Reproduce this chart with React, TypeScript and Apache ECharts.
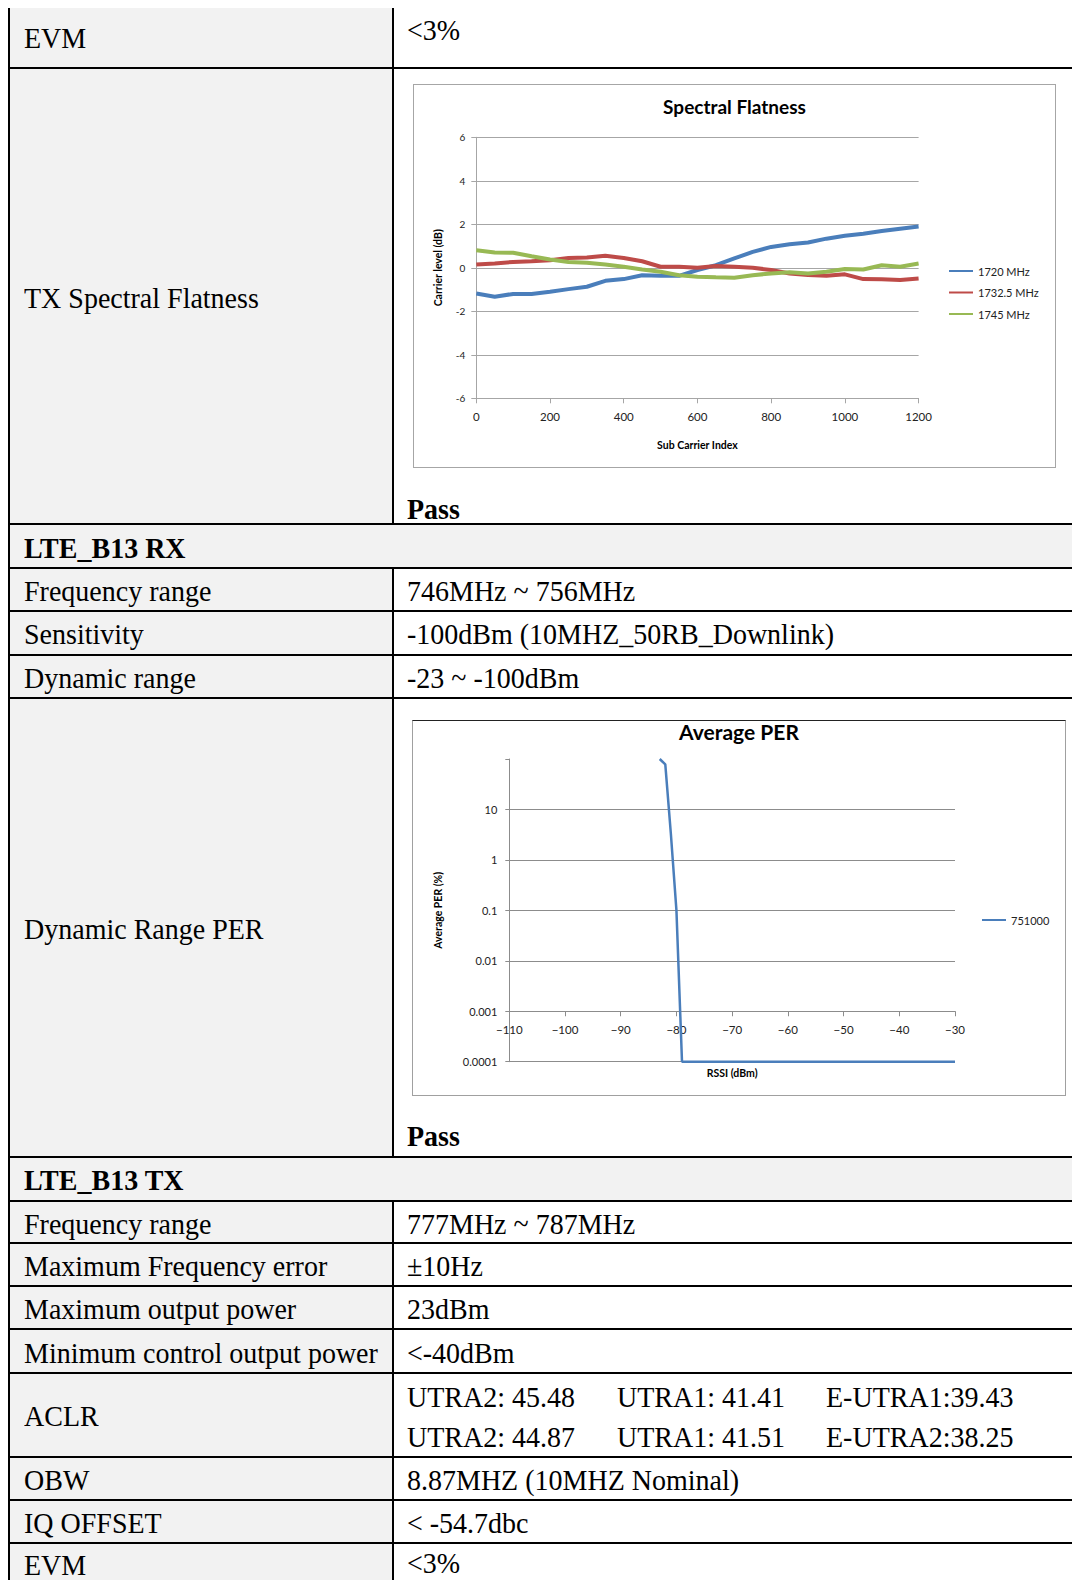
import React, { useEffect, useRef } from 'react';
import * as echarts from 'echarts';

// ---------- Spectral flatness data ----------
const subCarrierIndex = [0, 50, 100, 150, 200, 250, 300, 350, 400, 450, 500, 550, 600, 650, 700, 750, 800, 850, 900, 950, 1000, 1050, 1100, 1150, 1200];
const level1720 = [-1.18, -1.33, -1.2, -1.2, -1.1, -0.98, -0.87, -0.6, -0.52, -0.34, -0.37, -0.37, -0.1, 0.12, 0.43, 0.73, 0.96, 1.08, 1.16, 1.34, 1.47, 1.57, 1.69, 1.8, 1.9];
const level17325 = [0.15, 0.2, 0.27, 0.3, 0.35, 0.45, 0.47, 0.55, 0.45, 0.3, 0.05, 0.05, 0.0, 0.08, 0.05, 0.0, -0.1, -0.26, -0.33, -0.37, -0.3, -0.52, -0.53, -0.56, -0.49];
const level1745 = [0.81, 0.7, 0.69, 0.53, 0.38, 0.27, 0.23, 0.15, 0.05, -0.08, -0.18, -0.34, -0.41, -0.44, -0.46, -0.34, -0.26, -0.21, -0.26, -0.18, -0.06, -0.08, 0.12, 0.05, 0.2];
const flatnessNames = ['1720 MHz', '1732.5 MHz', '1745 MHz'];
const flatnessColors = ['#4a7ebb', '#be4b48', '#98b954'];

// ---------- Average PER data ----------
const rssi = [-83, -82, -81, -80, -79, -75, -70, -65, -60, -55, -50, -45, -40, -35, -30];
const per751000 = [100, 78, 3.3, 0.1, 0.0001, 0.0001, 0.0001, 0.0001, 0.0001, 0.0001, 0.0001, 0.0001, 0.0001, 0.0001, 0.0001];
const perTickLabels = ['0.0001', '0.001', '0.01', '0.1', '1', '10'];

// ---------- Table content ----------
const rowEdges = [8, 68, 524, 568, 611, 654.5, 698, 1157, 1200.7, 1243.3, 1286, 1329.3, 1372.7, 1456.7, 1500, 1543.3, 1620];
const rowLabels = ['EVM', 'TX Spectral Flatness', 'LTE_B13 RX', 'Frequency range', 'Sensitivity', 'Dynamic range', 'Dynamic Range PER', 'LTE_B13 TX', 'Frequency range', 'Maximum Frequency error', 'Maximum output power', 'Minimum control output power', 'ACLR', 'OBW', 'IQ OFFSET', 'EVM'];
const rowValues = ['<3%', '', '', '746MHz ~ 756MHz', '-100dBm (10MHZ_50RB_Downlink)', '-23 ~ -100dBm', '', '', '777MHz ~ 787MHz', '±10Hz', '23dBm', '<-40dBm', '', '8.87MHZ (10MHZ Nominal)', '< -54.7dbc', '<3%'];
const headerRows = [2, 7];
const aclrLines = [
  ['UTRA2: 45.48', 'UTRA1: 41.41', 'E-UTRA1:39.43'],
  ['UTRA2: 44.87', 'UTRA1: 41.51', 'E-UTRA2:38.25'],
];

const SERIF = "'Liberation Serif', 'Times New Roman', serif";
const SANS = "Lato, 'Noto Sans', sans-serif";
const LEFT_X = 24;
const RIGHT_X = 407;
const COL_X = 392;
const ACLR_X = [407, 617, 826];

function EChart({ option, style }: { option: any; style: React.CSSProperties }) {
  const ref = useRef<HTMLDivElement>(null);
  useEffect(() => {
    const chart = echarts.init(ref.current as HTMLDivElement, undefined, { renderer: 'svg' });
    chart.setOption(option);
    return () => chart.dispose();
  }, []);
  return <div ref={ref} style={style} />;
}

function T({ x, cy, bold, children }: { x: number; cy: number; bold?: boolean; children: React.ReactNode }) {
  return (
    <div
      style={{
        position: 'absolute',
        left: x,
        top: cy - 16,
        height: 32,
        lineHeight: '32px',
        fontSize: 28,
        fontFamily: SERIF,
        fontWeight: bold ? 'bold' : 'normal',
        whiteSpace: 'nowrap',
        color: '#000',
        transform: 'scaleY(1.08)',
        transformOrigin: 'left center',
      }}
    >
      {children}
    </div>
  );
}

const flatW = 643;
const flatH = 384;
const flatOption = {
  animation: false,
  backgroundColor: '#ffffff',
  title: {
    text: 'Spectral Flatness',
    left: 'center',
    top: 13,
    padding: 0,
    textStyle: { fontFamily: SANS, fontWeight: 'bold', fontSize: 19, color: '#000' },
  },
  grid: { left: 63.3, top: 53.3, width: 442.3, height: 261 },
  legend: {
    orient: 'vertical',
    left: 536,
    top: 181.5,
    padding: 0,
    itemWidth: 24,
    itemHeight: 2,
    itemGap: 10.5,
    icon: 'rect',
    data: flatnessNames,
    textStyle: { fontFamily: SANS, fontSize: 11, color: '#222' },
  },
  xAxis: {
    type: 'value',
    min: 0,
    max: 1200,
    interval: 200,
    name: 'Sub Carrier Index',
    nameLocation: 'middle',
    nameGap: 41,
    nameTextStyle: { fontFamily: SANS, fontWeight: 'bold', fontSize: 10.5, color: '#000' },
    axisLine: { show: true, onZero: false, lineStyle: { color: '#a6a6a6', width: 1 } },
    axisTick: { show: true, length: 5, lineStyle: { color: '#a6a6a6' } },
    axisLabel: { margin: 12, fontFamily: SANS, fontSize: 11.5, color: '#222', formatter: (v: number) => String(v) },
    splitLine: { show: false },
  },
  yAxis: {
    type: 'value',
    min: -6,
    max: 6,
    interval: 2,
    name: 'Carrier level (dB)',
    nameLocation: 'middle',
    nameGap: 33,
    nameTextStyle: { fontFamily: SANS, fontWeight: 'bold', fontSize: 10.5, color: '#000' },
    axisLine: { show: true, onZero: false, lineStyle: { color: '#a6a6a6', width: 1 } },
    axisTick: { show: true, length: 5, lineStyle: { color: '#a6a6a6' } },
    axisLabel: { margin: 11, fontFamily: SANS, fontSize: 10, color: '#222' },
    splitLine: { show: true, lineStyle: { color: '#a6a6a6', width: 1 } },
  },
  series: [level1720, level17325, level1745].map((vals, i) => ({
    type: 'line',
    name: flatnessNames[i],
    data: subCarrierIndex.map((x, j) => [x, vals[j]]),
    showSymbol: false,
    color: flatnessColors[i],
    lineStyle: { width: 4, color: flatnessColors[i] },
  })),
};

const perW = 654;
const perH = 376;
const perGridH = 302.7;
const perOption = {
  animation: false,
  backgroundColor: '#ffffff',
  title: {
    text: 'Average PER',
    left: 'center',
    top: 1,
    padding: 0,
    textStyle: { fontFamily: SANS, fontWeight: 'bold', fontSize: 21, color: '#000' },
  },
  grid: { left: 97.3, top: 39, width: 445.7, height: perGridH },
  legend: {
    orient: 'vertical',
    left: 570,
    top: 194.5,
    padding: 0,
    itemWidth: 24,
    itemHeight: 2,
    icon: 'rect',
    data: ['751000'],
    textStyle: { fontFamily: SANS, fontSize: 11, color: '#222' },
  },
  xAxis: {
    type: 'value',
    min: -110,
    max: -30,
    interval: 10,
    offset: -perGridH / 6,
    name: 'RSSI (dBm)',
    nameLocation: 'middle',
    nameGap: 56,
    nameTextStyle: { fontFamily: SANS, fontWeight: 'bold', fontSize: 10.5, color: '#000' },
    axisLine: { show: true, onZero: false, lineStyle: { color: '#8c8c8c', width: 1 } },
    axisTick: { show: true, length: 5, lineStyle: { color: '#8c8c8c' } },
    axisLabel: {
      margin: 12,
      fontFamily: SANS,
      fontSize: 11.5,
      color: '#222',
      formatter: (v: number) => String(v).replace('-', '\u2212'),
    },
    splitLine: { show: false },
  },
  yAxis: {
    type: 'log',
    logBase: 10,
    min: 0.0001,
    max: 100,
    name: 'Average PER (%)',
    nameLocation: 'middle',
    nameGap: 66,
    nameTextStyle: { fontFamily: SANS, fontWeight: 'bold', fontSize: 10.5, color: '#000' },
    axisLine: { show: true, onZero: false, lineStyle: { color: '#8c8c8c', width: 1 } },
    axisTick: { show: true, length: 4, lineStyle: { color: '#8c8c8c' } },
    axisLabel: {
      margin: 12,
      fontFamily: SANS,
      fontSize: 11,
      color: '#222',
      formatter: (v: number) => {
        const k = Math.round(Math.log10(v)) + 4;
        return perTickLabels[k] !== undefined ? perTickLabels[k] : '';
      },
    },
    splitLine: { show: true, showMaxLine: false, lineStyle: { color: '#8c8c8c', width: 1 } },
  },
  series: [
    {
      type: 'line',
      name: '751000',
      data: rssi.map((x, i) => [x, per751000[i]]),
      showSymbol: false,
      color: '#4a7ebb',
      lineStyle: { width: 2.5, color: '#4a7ebb' },
    },
  ],
};

export default function App() {
  const lastRow = rowLabels.length - 1;
  const rows = rowLabels.map((label, i) => {
    const top = rowEdges[i];
    const bottom = rowEdges[i + 1];
    const isHeader = headerRows.includes(i);
    let cy = (top + bottom) / 2 + 1.5;
    if (i === lastRow) cy = 1565;
    const items: React.ReactNode[] = [];
    items.push(
      <div
        key={'bg' + i}
        style={{
          position: 'absolute',
          left: 8,
          top,
          width: isHeader ? 1072 : COL_X - 8,
          height: bottom - top,
          background: '#f2f2f2',
        }}
      />
    );
    if (!isHeader) {
      items.push(
        <div key={'col' + i} style={{ position: 'absolute', left: COL_X, top, width: 2, height: bottom - top, background: '#000' }} />
      );
    }
    items.push(
      <T key={'l' + i} x={LEFT_X} cy={i === 0 ? 37.5 : cy} bold={isHeader}>
        {label}
      </T>
    );
    if (rowValues[i]) {
      items.push(
        <T key={'v' + i} x={RIGHT_X} cy={i === 0 ? 30 : i === lastRow ? 1563 : cy}>
          {rowValues[i]}
        </T>
      );
    }
    if (i > 0) {
      items.push(<div key={'h' + i} style={{ position: 'absolute', left: 8, top: top - 1, width: 1072, height: 2, background: '#000' }} />);
    }
    return items;
  });

  return (
    <div
      style={{
        position: 'absolute',
        left: 0,
        top: 0,
        width: 1072,
        height: 1580,
        overflow: 'hidden',
        background: '#ffffff',
      }}
    >
      {rows}
      <div style={{ position: 'absolute', left: 7.5, top: 8, width: 2, height: 1600, background: '#000' }} />

      {aclrLines.map((line, li) =>
        line.map((txt, ci) => (
          <T key={'a' + li + ci} x={ACLR_X[ci]} cy={li === 0 ? 1396.5 : 1437}>
            {txt}
          </T>
        ))
      )}

      <EChart option={flatOption} style={{ position: 'absolute', left: 413, top: 84, width: flatW, height: flatH }} />
      <div
        style={{
          position: 'absolute',
          left: 413,
          top: 84,
          width: flatW,
          height: flatH,
          border: '1px solid #a6a6a6',
          boxSizing: 'border-box',
          pointerEvents: 'none',
        }}
      />
      <T x={RIGHT_X} cy={509} bold>
        Pass
      </T>

      <EChart option={perOption} style={{ position: 'absolute', left: 412, top: 720, width: perW, height: perH }} />
      <div
        style={{
          position: 'absolute',
          left: 412,
          top: 720,
          width: perW,
          height: perH,
          border: '1px solid #a0a0a0',
          borderTop: '1.5px solid #222',
          boxSizing: 'border-box',
          pointerEvents: 'none',
        }}
      />
      <T x={RIGHT_X} cy={1136} bold>
        Pass
      </T>
    </div>
  );
}
